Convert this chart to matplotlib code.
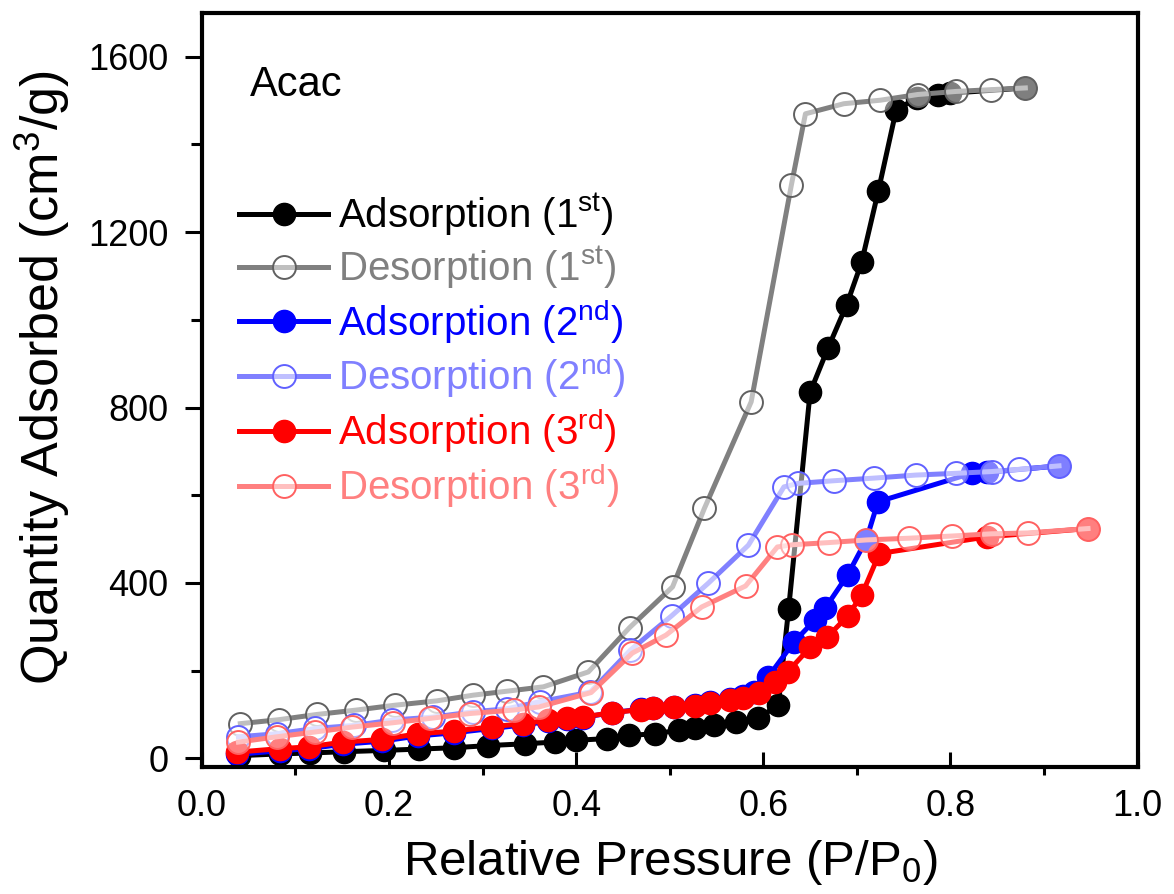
import matplotlib
matplotlib.use("Agg")
import matplotlib.pyplot as plt
from matplotlib.ticker import MultipleLocator

plt.rcParams['font.family'] = ['Liberation Sans', 'DejaVu Sans']
plt.rcParams['mathtext.fontset'] = 'custom'
plt.rcParams['mathtext.rm'] = 'Liberation Sans'
plt.rcParams['mathtext.it'] = 'Liberation Sans:italic'

ads1_x = [0.040, 0.083, 0.115, 0.152, 0.195, 0.232, 0.269, 0.306, 0.345, 0.377, 0.400, 0.433,
          0.456, 0.484, 0.510, 0.527, 0.547, 0.571, 0.594, 0.616, 0.627, 0.650, 0.669, 0.689,
          0.705, 0.723, 0.742, 0.764, 0.787, 0.800, 0.880]
ads1_y = [6, 10, 12, 15, 18, 21, 24, 29, 33, 37, 41, 45, 52, 56, 64, 68, 75, 83, 91, 121, 340,
          835, 935, 1034, 1131, 1295, 1479, 1506, 1512, 1517, 1529]

des1_x = [0.880, 0.843, 0.806, 0.765, 0.725, 0.686, 0.645, 0.630, 0.587, 0.537, 0.503, 0.457,
          0.413, 0.365, 0.326, 0.290, 0.251, 0.206, 0.165, 0.123, 0.082, 0.041]
des1_y = [1529, 1525, 1521, 1514, 1501, 1493, 1470, 1308, 813, 570, 391, 298, 197, 163, 153,
          144, 131, 121, 110, 100, 88, 79]

ads2_x = [0.037, 0.083, 0.114, 0.151, 0.192, 0.231, 0.269, 0.310, 0.343, 0.370, 0.390, 0.407,
          0.438, 0.469, 0.482, 0.504, 0.527, 0.543, 0.564, 0.578, 0.590, 0.605, 0.633, 0.655,
          0.666, 0.690, 0.710, 0.7225, 0.8225, 0.839, 0.916]
ads2_y = [9, 17, 22, 32, 39, 51, 58, 68, 76, 84, 89, 93, 104, 112, 115, 118, 122, 129, 135, 142,
          152, 185, 266, 315, 342, 418, 498, 585, 650, 652, 667]

des2_x = [0.916, 0.873, 0.844, 0.806, 0.763, 0.718, 0.675, 0.637, 0.622, 0.584, 0.541, 0.502,
          0.458, 0.415, 0.361, 0.326, 0.290, 0.247, 0.203, 0.163, 0.121, 0.080, 0.039]
des2_y = [667, 659, 654, 650, 646, 639, 633, 627, 619, 486, 399, 325, 247, 151, 129, 113, 106,
          94, 87, 75, 68, 56, 49]

ads3_x = [0.037, 0.083, 0.114, 0.151, 0.192, 0.231, 0.269, 0.310, 0.343, 0.370, 0.390, 0.407,
          0.438, 0.469, 0.482, 0.504, 0.527, 0.543, 0.564, 0.578, 0.595, 0.612, 0.626, 0.650,
          0.668, 0.690, 0.705, 0.724, 0.839, 0.947]
ads3_y = [14, 22, 26, 37, 43, 56, 62, 72, 79, 87, 91, 94, 104, 111, 114, 116, 120, 127, 132,
          138, 150, 175, 197, 253, 276, 324, 372, 467, 505, 524]

des3_x = [0.947, 0.883, 0.844, 0.802, 0.756, 0.710, 0.670, 0.631, 0.615, 0.581, 0.534, 0.496,
          0.460, 0.416, 0.360, 0.333, 0.286, 0.244, 0.204, 0.160, 0.121, 0.080, 0.039]
des3_y = [524, 514, 512, 507, 502, 498, 492, 487, 482, 393, 345, 281, 240, 150, 117, 110, 102,
          91, 81, 71, 60, 49, 37]

labels = [r'Adsorption (1$^{\mathrm{st}}$)', r'Desorption (1$^{\mathrm{st}}$)',
          r'Adsorption (2$^{\mathrm{nd}}$)', r'Desorption (2$^{\mathrm{nd}}$)',
          r'Adsorption (3$^{\mathrm{rd}}$)', r'Desorption (3$^{\mathrm{rd}}$)']

fig = plt.figure(figsize=(11.74, 8.94), dpi=100)
ax = fig.add_axes([0.172, 0.142, 0.797, 0.8435])

semi_white = (1, 1, 1, 0.5)

# cycle 1
ax.plot(ads1_x, ads1_y, '-o', color='black', lw=3.6, ms=16, label=labels[0])
ax.plot(des1_x, des1_y, '-o', color='#808080', lw=3.6, ms=16.5, mfc=semi_white,
        mec='#606060', mew=1.4, label=labels[1])
# cycle 2
ax.plot(ads2_x, ads2_y, '-o', color='#0000ff', lw=3.6, ms=16, label=labels[2])
ax.plot(des2_x, des2_y, '-o', color='#8080ff', lw=3.6, ms=16.5, mfc=semi_white,
        mec='#6060ff', mew=1.4, label=labels[3])
# cycle 3
ax.plot(ads3_x, ads3_y, '-o', color='#ff0000', lw=3.6, ms=16, label=labels[4])
ax.plot(des3_x, des3_y, '-o', color='#ff8080', lw=3.6, ms=16.5, mfc=semi_white,
        mec='#ff6060', mew=1.4, label=labels[5])

ax.set_xlim(0, 1.0)
ax.set_ylim(-20, 1700)

ax.xaxis.set_minor_locator(MultipleLocator(0.1))
ax.yaxis.set_major_locator(MultipleLocator(400))
ax.yaxis.set_minor_locator(MultipleLocator(200))
ax.set_xticks([0.0, 0.2, 0.4, 0.6, 0.8, 1.0])
ax.set_xticklabels(['0.0', '0.2', '0.4', '0.6', '0.8', '1.0'])

ax.tick_params(axis='x', which='major', direction='in', length=11, width=2.2,
               labelsize=26, pad=16)
ax.tick_params(axis='x', which='minor', direction='out', length=6, width=2.2)
ax.tick_params(axis='y', which='major', direction='out', length=12, width=2.2,
               labelsize=26, pad=12)
ax.tick_params(axis='y', which='minor', direction='out', length=8, width=2.2)

for s in ax.spines.values():
    s.set_linewidth(3)

ax.set_xlabel(r'Relative Pressure (P/P$_{\mathrm{0}}$)', fontsize=35.5, labelpad=10)
ax.set_ylabel(r'Quantity Adsorbed (cm$^{\mathrm{3}}$/g)', fontsize=37.5, labelpad=12)
ax.yaxis.label.set_y(0.516)

ax.text(0.051, 0.905, 'Acac', transform=ax.transAxes, fontsize=30, va='center', ha='left')

leg = ax.legend(loc='upper left', bbox_to_anchor=(0.04, 0.763), frameon=False,
                fontsize=29, handlelength=2.2, handletextpad=0.25, labelspacing=0.16,
                borderpad=0, borderaxespad=0)
text_colors = ['black', '#808080', '#0000ff', '#8080ff', '#ff0000', '#ff8080']
for t, c in zip(leg.get_texts(), text_colors):
    t.set_color(c)

fig.savefig('out.png', dpi=100)
